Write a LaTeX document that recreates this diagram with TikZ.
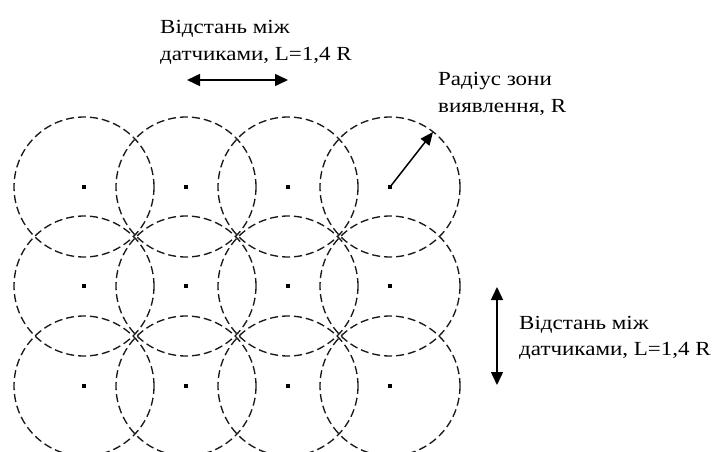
\documentclass[tikz,border=0pt]{standalone}
\usepackage{fontspec}
\setmainfont[FakeStretch=1.15]{Liberation Serif}
\usetikzlibrary{arrows.meta}
\begin{document}
\begin{tikzpicture}[x=1pt,y=-1pt,
  zone/.style={draw=black!90,line width=1.35pt,dash pattern=on 8pt off 4pt},
  sensor/.style={fill=black,minimum size=4pt,inner sep=0pt,draw=none,rectangle},
  lbl/.style={align=left,inner sep=0pt,anchor=base west},
  dim/.style={line width=1.5pt,{Triangle[length=13pt,width=12pt]}-{Triangle[length=13pt,width=12pt]}},
  rad/.style={line width=1.5pt,-{Triangle[length=13pt,width=11pt]}}]
\useasboundingbox (0,0) rectangle (718,452);
\foreach \c [count=\i] in {84,186,288,390}{
  \foreach \r [count=\j] in {187,286,386}{
    \draw[zone] (\c,\r) circle (70pt);
    \node[sensor] (s\i\j) at (\c,\r) {};
  }
}
\node[lbl,font=\fontsize{20}{28}\selectfont] (t1) at (160,61) {Відстань між\\датчиками, L=1,4 R};
\coordinate (a1) at (187,80);
\coordinate (a2) at (288,80);
\draw[dim] (a1) -- (a2);
\node[lbl,font=\fontsize{20}{27}\selectfont] (t2) at (438,112) {Радіус зони\\виявлення, R};
\coordinate (r2) at (433,132);
\draw[rad] (s41.center) -- (r2);
\node[lbl,font=\fontsize{20}{26}\selectfont] (t3) at (519,355) {Відстань між\\датчиками, L=1,4 R};
\coordinate (b1) at (497,287);
\coordinate (b2) at (497,385);
\draw[dim] (b1) -- (b2);
\end{tikzpicture}
\end{document}
